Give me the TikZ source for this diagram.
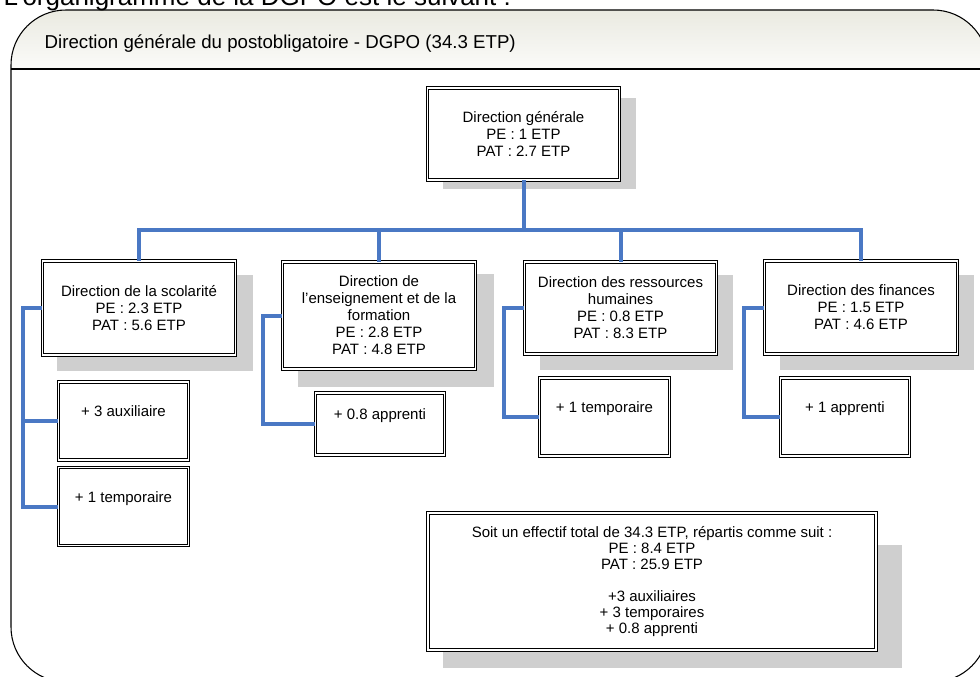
\documentclass[tikz,border=0pt]{standalone}
\usepackage{fontspec}
\setmainfont{Liberation Sans}
\usetikzlibrary{backgrounds}
\definecolor{bleu}{RGB}{74,120,196}
\definecolor{gris}{RGB}{207,207,207}
\definecolor{entete}{RGB}{234,234,225}
\begin{document}
\begin{tikzpicture}[x=0.75pt,y=-0.75pt,
    boite/.style={draw,double,double distance=0.9pt,line width=0.7pt,fill=white,
      align=center,inner sep=0pt,font=\fontsize{11.25}{12.75}\selectfont},
    dir/.style={boite,minimum width=144.5pt},
    sup/.style={boite,minimum width=97pt,text height=26pt,text depth=32.5pt},
    lien/.style={draw=bleu,line width=3pt},
    ombre/.style={fill=gris}]
  \useasboundingbox (0,0) rectangle (980,677);
  \clip (0,0) rectangle (980,677);
  % cadre et bandeau
  \begin{scope}
    \clip [rounded corners=41.25pt] (11,10) rectangle (988,682);
    \shade [top color=entete,bottom color=entete!20] (11,10) rectangle (988,69);
  \end{scope}
  \draw [line width=0.8pt,rounded corners=41.25pt] (11,10) rectangle (988,682);
  \draw [line width=0.8pt] (11,69) -- (988,69);
  \node [anchor=base west,font=\fontsize{19.5}{23}\selectfont] (intro) at (-1,6) {L’organigramme de la DGPO est le suivant :};
  \node [anchor=base west,font=\fontsize{14}{16}\selectfont] (titre) at (40,49) {Direction générale du postobligatoire - DGPO (34.3 ETP)};
  % directions
  \node [dir,minimum height=69pt] (dg) at (523.5,134) {Direction générale\\PE : 1 ETP\\PAT : 2.7 ETP};
  \node [dir,minimum height=70.5pt] (scol) at (139,308) {Direction de la scolarité\\PE : 2.3 ETP\\PAT : 5.6 ETP};
  \node [dir,minimum height=80.25pt] (ens) at (379,315.5) {Direction de\\l’enseignement et de la\\formation\\PE : 2.8 ETP\\PAT : 4.8 ETP};
  \node [dir,minimum height=69pt] (rh) at (620.5,308) {Direction des ressources\\humaines\\PE : 0.8 ETP\\PAT : 8.3 ETP};
  \node [dir,minimum height=69.75pt] (fin) at (861,307.5) {Direction des finances\\PE : 1.5 ETP\\PAT : 4.6 ETP};
  % auxiliaires, temporaires, apprentis
  \node [sup] (aux) at (123.5,421) {+ 3 auxiliaire};
  \node [sup] (temp) at (123.5,506.5) {+ 1 temporaire};
  \node [sup,text height=19.5pt,text depth=27pt] (appr) at (380,424) {+ 0.8 apprenti};
  \node [sup] (temprh) at (604.5,417) {+ 1 temporaire};
  \node [sup] (apfin) at (845,417) {+ 1 apprenti};
  \node [boite,minimum width=336pt,minimum height=102.75pt,font=\fontsize{11.25}{11.9}\selectfont] (total) at (652,581.5)
    {Soit un effectif total de 34.3 ETP, répartis comme suit :\\PE : 8.4 ETP\\PAT : 25.9 ETP\\[12pt]+3 auxiliaires\\+ 3 temporaires\\+ 0.8 apprenti};
  % ombres
  \begin{scope}[on background layer]
    \foreach \n/\a/\b/\c/\d in {dg/16/10/16/9,scol/15/14/17/16,ens/16/12/18/18,rh/16/13/16/16,fin/16/14/16/16,total/15/32/26/18}
      \fill [ombre] ([shift={(\a,\b)}]\n.north west) rectangle ([shift={(\c,\d)}]\n.south east);
  \end{scope}
  % liaisons
  \coordinate (bus) at (0,230);
  \draw [lien] (scol.north) -- (scol.north |- bus) -- (fin.north |- bus) -- (fin.north);
  \foreach \n in {dg.south,ens.north,rh.north}
    \draw [lien] (\n) -- (\n |- bus);
  \draw [lien] (scol.west) -- ++(-19,0) coordinate (s1) |- (temp.west);
  \draw [lien] (aux.west) -- (aux.west -| s1);
  \draw [lien] (ens.west) -- ++(-19,0) |- (appr.west);
  \draw [lien] (rh.west) -- ++(-20,0) |- (temprh.west);
  \draw [lien] (fin.west) -- ++(-20,0) |- (apfin.west);
\end{tikzpicture}
\end{document}
